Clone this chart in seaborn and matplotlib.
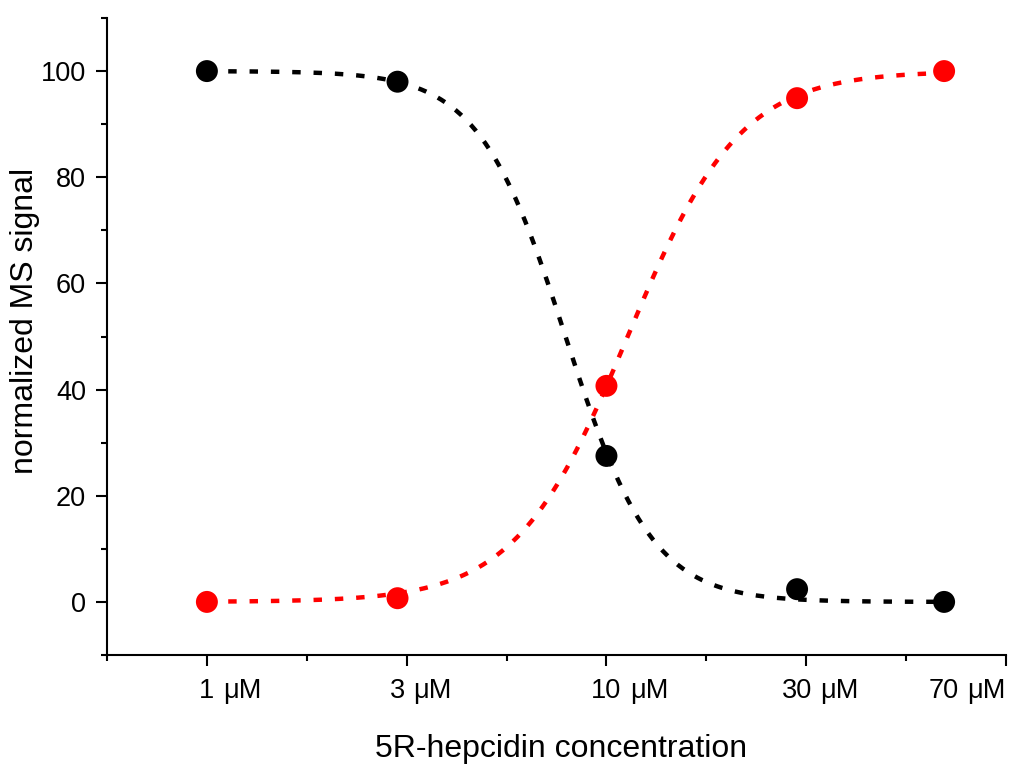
import numpy as np
import pandas as pd
import matplotlib
matplotlib.use("Agg")
import matplotlib.pyplot as plt
import seaborn as sns
from matplotlib.ticker import FixedLocator, NullFormatter

# ---- data ----
conc_uM = [1, 3, 10, 30, 70]
black_signal = [100, 98, 27.5, 2.4, 0]      # black series
red_signal = [0, 0.7, 40.7, 94.9, 100]      # red series
tick_labels = ["1", "3", "10", "30", "70"]
unit = "\u03bcM"

# fitted logistic (Hill) parameters for the dotted fit curves
black_fit = dict(top=100.0, bottom=0.0, ec50=7.9, hill=4.0)
red_fit = dict(top=100.0, bottom=0.0, ec50=11.3, hill=3.1)

def hill_down(x, p):
    return p["bottom"] + (p["top"] - p["bottom"]) / (1 + (x / p["ec50"]) ** p["hill"])

def hill_up(x, p):
    return p["bottom"] + (p["top"] - p["bottom"]) / (1 + (p["ec50"] / x) ** p["hill"])

xfit = np.geomspace(conc_uM[0], conc_uM[-1], 300)
fit_df = pd.DataFrame({
    "x": np.concatenate([xfit, xfit]),
    "y": np.concatenate([hill_down(xfit, black_fit), hill_up(xfit, red_fit)]),
    "series": ["black"] * len(xfit) + ["red"] * len(xfit),
})
pts_df = pd.DataFrame({
    "x": conc_uM + conc_uM,
    "y": black_signal + red_signal,
    "series": ["black"] * len(conc_uM) + ["red"] * len(conc_uM),
})

sns.set_theme(style="ticks")
plt.rcParams["font.family"] = ["Liberation Sans", "DejaVu Sans"]

W, H = 1035, 767
fig = plt.figure(figsize=(W / 100, H / 100), dpi=100)
L, R, T, B = 107, 1006, 18, 655
ax = fig.add_axes([L / W, 1 - B / H, (R - L) / W, (B - T) / H])

palette = {"black": "#000000", "red": "#ff0000"}
lw = 3.2
sns.lineplot(data=fit_df, x="x", y="y", hue="series", palette=palette,
             ax=ax, legend=False, linewidth=lw, sort=False, estimator=None)
for line in ax.get_lines():
    line.set_linestyle((0, (1.9, 2.9)))
sns.scatterplot(data=pts_df, x="x", y="y", hue="series", palette=palette,
                ax=ax, legend=False, s=250, edgecolor="none", zorder=5)

ax.set_xscale("log")
ax.set_xlim(10 ** -0.25, 10 ** 2)
ax.set_ylim(-10, 110)

ax.xaxis.set_major_locator(FixedLocator([10 ** e for e in (0, 0.5, 1, 1.5, 2)]))
ax.xaxis.set_minor_locator(FixedLocator([10 ** e for e in (-0.25, 0.25, 0.75, 1.25, 1.75)]))
ax.xaxis.set_major_formatter(NullFormatter())
ax.xaxis.set_minor_formatter(NullFormatter())
ax.yaxis.set_major_locator(FixedLocator(list(range(0, 101, 20))))
ax.yaxis.set_minor_locator(FixedLocator(list(range(-10, 111, 20))))

for s in ("top", "right"):
    ax.spines[s].set_visible(False)
for s in ("left", "bottom"):
    ax.spines[s].set_linewidth(1.5)
    ax.spines[s].set_color("black")

fs_tick = 19.5
ax.tick_params(axis="both", which="major", length=8, width=1.5, color="black",
               direction="out", labelsize=fs_tick, labelcolor="black")
ax.tick_params(axis="both", which="minor", length=4, width=1.5, color="black",
               direction="out")
ax.tick_params(axis="y", which="major", pad=7)
ax.set_xlabel("")
ax.set_ylabel("")

# x tick labels: number centred at the concentration, unit trailing
for c, lab in zip(conc_uM, tick_labels):
    t = ax.annotate(lab, xy=(c, 0), xycoords=("data", "axes fraction"),
                    xytext=(0, -16.5), textcoords="offset points",
                    ha="center", va="top", fontsize=fs_tick, color="black")
    ax.annotate(unit, xy=(1, 0), xycoords=t, xytext=(6, 0),
                textcoords="offset points", ha="left", va="bottom",
                fontsize=fs_tick, color="black")

fig.text(561 / W, 1 - 734 / H, "5R-hepcidin concentration", ha="center",
         va="top", fontsize=23, color="black")
fig.text(10 / W, 1 - 321 / H, "normalized MS signal", ha="left",
         va="center", rotation=90, fontsize=23, color="black")

fig.savefig("out.png", dpi=100, facecolor="white")
